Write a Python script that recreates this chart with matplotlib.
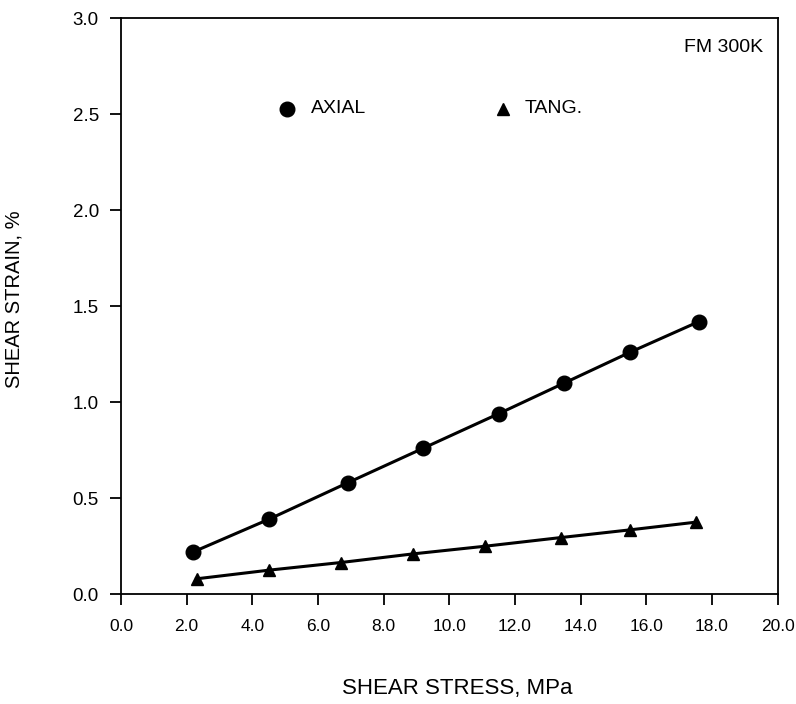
import matplotlib.pyplot as plt

# values
axial_x = [2.2, 4.5, 6.9, 9.2, 11.5, 13.5, 15.5, 17.6]
axial_y = [0.22, 0.39, 0.58, 0.76, 0.94, 1.10, 1.26, 1.42]
tang_x = [2.3, 4.5, 6.7, 8.9, 11.1, 13.4, 15.5, 17.5]
tang_y = [0.08, 0.125, 0.165, 0.21, 0.25, 0.295, 0.335, 0.375]

xticks = [0, 2, 4, 6, 8, 10, 12, 14, 16, 18, 20]
yticks = [0.0, 0.5, 1.0, 1.5, 2.0, 2.5, 3.0]

plt.rcParams['font.family'] = ['Liberation Sans', 'DejaVu Sans']

fig = plt.figure(figsize=(7.96, 7.04), dpi=100)
ax = fig.add_axes([0.152, 0.156, 0.825, 0.818])

ax.plot(axial_x, axial_y, color='black', lw=2.2, marker='o', ms=10.5)
ax.plot(tang_x, tang_y, color='black', lw=2.2, marker='^', ms=9)

ax.set_xlim(0, 20)
ax.set_ylim(0, 3.0)
ax.set_xticks(xticks)
ax.set_xticklabels(['%.1f' % v for v in xticks])
ax.set_yticks(yticks)
ax.set_yticklabels(['%.1f' % v for v in yticks])
ax.tick_params(direction='out', length=8, width=1.3, labelsize=13.5, pad=8)
ax.tick_params(axis='x', pad=10, labelsize=12.5)
for s in ax.spines.values():
    s.set_linewidth(1.3)

# in-plot key
ax.plot([5.07], [2.53], marker='o', color='black', ms=10.5)
ax.text(5.8, 2.53, 'AXIAL', fontsize=14, va='center')
ax.plot([11.62], [2.53], marker='^', color='black', ms=9)
ax.text(12.3, 2.53, 'TANG.', fontsize=14, va='center')
ax.text(19.55, 2.85, 'FM 300K', fontsize=14, ha='right', va='center')

fig.text(0.574, 0.022, 'SHEAR STRESS, MPa', fontsize=16, ha='center', va='center')
fig.text(0.017, 0.575, 'SHEAR STRAIN, %', fontsize=14.5, rotation=90,
         ha='center', va='center')

fig.savefig('out.png', dpi=100)
